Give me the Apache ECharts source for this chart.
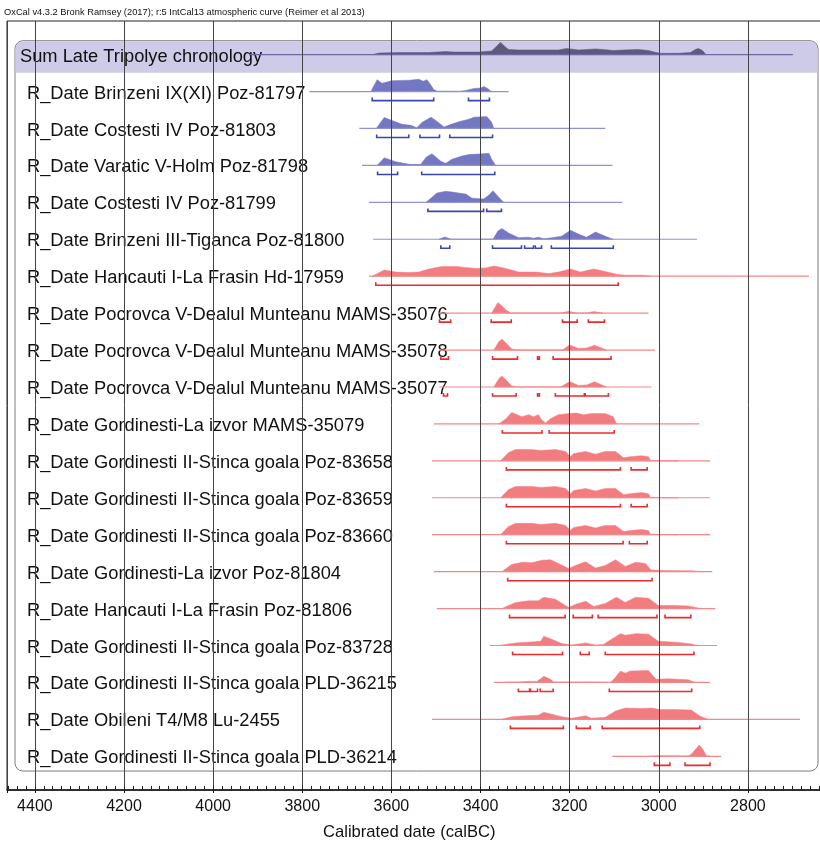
<!DOCTYPE html>
<html>
<head>
<meta charset="utf-8">
<script src="https://cdn.jsdelivr.net/npm/echarts@6/dist/echarts.min.js"></script>
<style>html,body{margin:0;padding:0;background:#fff;overflow:hidden;}#c{width:840px;height:847px;}</style>
</head>
<body>
<div id="c"></div>
<script>
// ---------------- DATA ----------------
const HEADER = 'OxCal v4.3.2 Bronk Ramsey (2017); r:5 IntCal13 atmospheric curve (Reimer et al 2013)';
const AXIS_TITLE = 'Calibrated date (calBC)';
const TICK_VALUES = [4400, 4200, 4000, 3800, 3600, 3400, 3200, 3000, 2800];
const TICK_LABELS = ['4400', '4200', '4000', '3800', '3600', '3400', '3200', '3000', '2800'];

const ROW_LABELS = [
  'Sum Late Tripolye chronology',
  'R_Date Brinzeni IX(XI) Poz-81797',
  'R_Date Costesti IV Poz-81803',
  'R_Date Varatic V-Holm Poz-81798',
  'R_Date Costesti IV Poz-81799',
  'R_Date Brinzeni III-Tiganca Poz-81800',
  'R_Date Hancauti I-La Frasin Hd-17959',
  'R_Date Pocrovca V-Dealul Munteanu MAMS-35076',
  'R_Date Pocrovca V-Dealul Munteanu MAMS-35078',
  'R_Date Pocrovca V-Dealul Munteanu MAMS-35077',
  'R_Date Gordinesti-La izvor MAMS-35079',
  'R_Date Gordinesti II-Stinca goala Poz-83658',
  'R_Date Gordinesti II-Stinca goala Poz-83659',
  'R_Date Gordinesti II-Stinca goala Poz-83660',
  'R_Date Gordinesti-La izvor Poz-81804',
  'R_Date Hancauti I-La Frasin Poz-81806',
  'R_Date Gordinesti II-Stinca goala Poz-83728',
  'R_Date Gordinesti II-Stinca goala PLD-36215',
  'R_Date Obileni T4/M8 Lu-2455',
  'R_Date Gordinesti II-Stinca goala PLD-36214'
];
const ROW_KIND = ['sum','blue','blue','blue','blue','blue','red','red','red','red','red','red','red','red','red','red','red','red','red','red'];

// full calibrated range (calBC) drawn as the thin line of each row
const ROW_RANGES = [
  [3919, 2699], [3784, 3337], [3672, 3120], [3666, 3104], [3650, 3082], [3641, 2914],
  [3650, 2663], [3493, 3023], [3493, 3008], [3493, 3017], [3505, 2909], [3509, 2885],
  [3509, 2885], [3509, 2885], [3505, 2880], [3498, 2873], [3379, 2869], [3370, 2885],
  [3509, 2683], [3104, 2860]
];

// probability distributions: [calBC, relative probability (0-12)]
const DIST_SUM = [[3643,0],[3628,1.5],[3583,2],[3516,2],[3478,3],[3460,2.5],[3404,2.5],[3375,3.5],[3364,8],[3355,12],[3346,8],[3337,5],[3314,4.5],[3270,4.5],[3225,4.5],[3207,6],[3198,5.5],[3180,4.5],[3142,5.5],[3124,5],[3102,4],[3079,4.5],[3046,5],[3023,4],[3010,2.5],[2997,1.2],[2956,1.3],[2929,2],[2918,5],[2911,6],[2902,4],[2894,0]];
const DIST_81797 = [[3646,0],[3632,11.5],[3621,8],[3599,10.5],[3560,11],[3538,12],[3529,10],[3520,11.5],[3511,6],[3505,2],[3498,0.5],[3449,0.3],[3433,1],[3415,3],[3399,3.5],[3393,5],[3384,3],[3377,0.5],[3370,0]];
const DIST_81803 = [[3634,0],[3616,10.7],[3594,7],[3576,4],[3556,3],[3543,0.7],[3531,6],[3511,11],[3498,7],[3482,1.5],[3466,4],[3449,6.5],[3426,9],[3415,11],[3386,11.5],[3375,6],[3370,0]];
const DIST_81798 = [[3632,0],[3616,7.3],[3590,3.5],[3560,1],[3534,1],[3522,8],[3509,11.3],[3489,4],[3478,2],[3464,6],[3442,9],[3426,10.5],[3404,11],[3381,11.7],[3375,6],[3366,0]];
const DIST_81799 = [[3522,0],[3498,9],[3478,10.7],[3464,10],[3433,8],[3419,4],[3393,3.3],[3381,7],[3372,11.3],[3359,5],[3348,0]];
const DIST_81800 = [[3493,0],[3480,2.3],[3466,0],[3372,0],[3361,8],[3352,10.5],[3337,6],[3314,1.5],[3292,2],[3281,1],[3270,2],[3258,0.5],[3240,1.5],[3218,3],[3198,8.7],[3180,5],[3162,2],[3142,7],[3120,3],[3102,0]];
const DIST_17959 = [[3643,0],[3616,6],[3590,4],[3560,3.5],[3538,4],[3516,7],[3487,9.5],[3455,9.5],[3411,7.5],[3388,8],[3370,10],[3343,7.5],[3314,4],[3276,4],[3247,2.5],[3225,4],[3198,7],[3176,4],[3146,7],[3120,4.5],[3095,2],[3075,1],[3039,1],[3017,0]];
const DIST_35076 = [[3375,0],[3361,10.3],[3352,7],[3343,3],[3332,0],[3220,0],[3202,1.7],[3185,0],[3162,0],[3146,1.5],[3126,0]];
const DIST_35078 = [[3370,0],[3359,8],[3352,10.7],[3341,6],[3330,1],[3319,0],[3216,0],[3200,5],[3180,1.5],[3162,2],[3144,4.7],[3117,0]];
const DIST_35077 = [[3370,0],[3359,8],[3352,10.7],[3341,6],[3330,1],[3319,0],[3220,0],[3200,5.3],[3180,1.5],[3162,2],[3144,5],[3117,0]];
const DIST_35079 = [[3359,0],[3343,5],[3330,11],[3307,7],[3292,9],[3281,7],[3270,9],[3263,4],[3254,1],[3243,5],[3225,9],[3202,10],[3185,10.5],[3169,9],[3151,10],[3120,10],[3102,7],[3095,0]];
const DIST_83658 = [[3355,0],[3337,8],[3321,11],[3285,11],[3265,10],[3232,11],[3209,9],[3198,4],[3191,7],[3164,9],[3142,6.5],[3120,9],[3097,9],[3079,3],[3064,4],[3039,5],[3023,4],[3019,0.5],[3001,0.3],[2956,0]];
const DIST_83659 = [[3355,0],[3337,8],[3321,11],[3285,11],[3265,10],[3232,11],[3209,9],[3198,4],[3191,7],[3164,9],[3142,6.5],[3120,9],[3097,9],[3079,3],[3064,4],[3039,5],[3023,4],[3019,0.5],[3001,0.3],[2956,0]];
const DIST_83660 = [[3355,0],[3337,8],[3321,11],[3285,11],[3265,10],[3232,11],[3209,9],[3198,4],[3191,7],[3164,9],[3142,6.5],[3120,9],[3097,9],[3079,3],[3064,4],[3039,5],[3023,4],[3019,0.5],[3001,0.3],[2956,0]];
const DIST_81804 = [[3352,0],[3330,7],[3307,9],[3285,8.5],[3263,11],[3243,11.5],[3225,8],[3202,3],[3187,6],[3164,9.5],[3142,3.5],[3120,6],[3097,11.5],[3075,5],[3052,9],[3030,8],[3017,1.5],[2985,1],[2927,0.8],[2898,0]];
const DIST_81806 = [[3352,0],[3321,6],[3292,7.5],[3270,7.5],[3258,11],[3232,9],[3202,1],[3187,4],[3164,7],[3146,2],[3120,5],[3095,11],[3075,6],[3052,11],[3023,10],[3001,3],[2963,3],[2934,2.5],[2911,0.5],[2900,0]];
const DIST_83728 = [[3359,0],[3321,2.5],[3285,3.5],[3265,4],[3258,9],[3240,6],[3218,2],[3196,0.5],[3164,2.5],[3142,0.5],[3124,1],[3106,6],[3086,11.5],[3075,10],[3052,11.5],[3023,11],[3001,4],[2956,3],[2927,1.5],[2911,0]];
const DIST_36215 = [[3348,0],[3314,0.5],[3292,1],[3274,1],[3263,4],[3258,6],[3243,3],[3236,0.5],[3202,0.3],[3164,0.5],[3135,0.3],[3108,0],[3097,5],[3086,11],[3075,9],[3064,11],[3023,11.5],[3010,5],[3005,3],[2979,3.5],[2934,2.5],[2918,0]];
const DIST_2455 = [[3352,0],[3330,2.5],[3299,3.5],[3270,4],[3258,7],[3240,5],[3218,2.5],[3196,1],[3164,3.5],[3151,1],[3120,2],[3097,8],[3075,11],[3039,10.5],[3017,11],[2997,9.5],[2963,9.5],[2927,9],[2907,3],[2889,0]];
const DIST_36214 = [[3023,0],[3001,0.5],[2979,0.4],[2934,0.3],[2927,2],[2909,11],[2900,6],[2894,1],[2885,0]];
const ROW_DISTS = [DIST_SUM, DIST_81797, DIST_81803, DIST_81798, DIST_81799, DIST_81800, DIST_17959, DIST_35076, DIST_35078, DIST_35077, DIST_35079, DIST_83658, DIST_83659, DIST_83660, DIST_81804, DIST_81806, DIST_83728, DIST_36215, DIST_2455, DIST_36214];

// highest probability density ranges (brackets) [from, to] calBC
const ROW_BRACKETS = [
  [],
  [[3643,3505],[3427,3380]],
  [[3633,3561],[3536,3492],[3469,3373]],
  [[3631,3586],[3532,3368]],
  [[3518,3393],[3386,3353]],
  [[3489,3469],[3373,3308],[3301,3281],[3277,3263],[3241,3102]],
  [[3635,3091]],
  [[3492,3467],[3376,3331],[3216,3183],[3158,3122]],
  [[3489,3472],[3373,3317],[3272,3268],[3237,3107]],
  [[3483,3474],[3373,3320],[3272,3268],[3232,3167],[3165,3113]],
  [[3351,3262],[3246,3100]],
  [[3342,3086],[3062,3026]],
  [[3342,3086],[3062,3026]],
  [[3342,3080],[3066,3026]],
  [[3339,3015]],
  [[3335,3210],[3192,3149],[3136,3004],[2986,2928]],
  [[3328,3216],[3176,3156],[3120,2921]],
  [[3315,3290],[3288,3272],[3266,3237],[3111,2926]],
  [[3333,3214],[3185,3154],[3127,2908]],
  [[3010,2975],[2941,2885]]
];

// ---------------- STYLE ----------------
const FONT = '"Liberation Sans", Arial, Helvetica, sans-serif';
const KIND_STYLE = {
  sum:  { fill: '#5e5b7a', line: '#6b6aa3', bracket: '#3c44b0' },
  blue: { fill: '#7477c2', line: '#8f92d2', bracket: '#3c44b0' },
  red:  { fill: '#f27d80', line: '#f4878a', bracket: '#ec2b2e' }
};

const chart = echarts.init(document.getElementById('c'));

function renderBox(params, api) {
  const cs = params.coordSys;
  const x0 = cs.x + 8, x1 = cs.x + 811;
  const yTop = api.coord([3000, -0.376])[1];
  const yBand = api.coord([3000, 0.49])[1];
  const yBot = api.coord([3000, 19.4])[1];
  return {
    type: 'group',
    children: [
      { type: 'rect', shape: { x: x0, y: yTop, width: x1 - x0, height: yBot - yTop, r: 8 },
        style: { fill: '#ffffff', stroke: '#7d7d7d', lineWidth: 1 } },
      { type: 'rect', shape: { x: x0 + 0.5, y: yTop + 0.5, width: x1 - x0 - 1, height: yBand - yTop - 0.5, r: [8, 8, 0, 0] },
        style: { fill: '#cdcbe7' } }
    ]
  };
}

function renderLabel(params, api) {
  const i = api.value(1);
  const cs = params.coordSys;
  const y = api.coord([3000, i])[1];
  return {
    type: 'text',
    x: cs.x + (i === 0 ? 13 : 20),
    y: y + 2,
    style: { text: ROW_LABELS[i], font: '18.3px ' + FONT, fill: '#111', align: 'left', verticalAlign: 'middle' }
  };
}

function renderRow(params, api) {
  const i = api.value(1);
  const st = KIND_STYLE[ROW_KIND[i]];
  const rowPx = api.size([0, 1])[1];
  const hScale = rowPx * 0.335 / 12;
  const children = [];
  const r = ROW_RANGES[i];
  const a = api.coord([r[0], i]), b = api.coord([r[1], i]);
  const dist = ROW_DISTS[i];
  const pts = dist.map(function (p) { const c = api.coord([p[0], i]); return [c[0], c[1] - p[1] * hScale]; });
  children.push({ type: 'polygon', shape: { points: pts }, style: { fill: st.fill, stroke: st.fill, lineWidth: 0.5 } });
  children.push({ type: 'line', shape: { x1: a[0], y1: a[1], x2: b[0], y2: b[1] }, style: { stroke: st.line, lineWidth: 1.2 } });
  const off = rowPx * 0.245;
  ROW_BRACKETS[i].forEach(function (br) {
    const p = api.coord([br[0], i]), q = api.coord([br[1], i]);
    const y = p[1] + off;
    children.push({ type: 'polyline', shape: { points: [[p[0], y - 3], [p[0], y], [q[0], y], [q[0], y - 3]] },
      style: { stroke: st.bracket, lineWidth: 1.6, fill: null } });
  });
  return { type: 'group', children: children };
}

const rowIdx = ROW_LABELS.map(function (_, i) { return [3000, i]; });

chart.setOption({
  animation: false,
  backgroundColor: '#ffffff',
  title: [
    { text: HEADER, left: 4, top: 8, padding: 0,
      textStyle: { fontSize: 9.3, fontWeight: 'normal', fontFamily: FONT, color: '#111' } },
    { text: AXIS_TITLE, left: 323, top: 824, padding: 0,
      textStyle: { fontSize: 16.6, fontWeight: 'normal', fontFamily: FONT, color: '#111' } }
  ],
  grid: { left: 7, right: 0.6, top: 21, bottom: 57, show: true, borderColor: '#222', borderWidth: 1, backgroundColor: 'transparent' },
  xAxis: [
    {
      type: 'value', inverse: true, min: 2600, max: 4462.6, interval: 200, position: 'bottom', z: 10,
      axisLine: { show: true, onZero: false, lineStyle: { color: '#111', width: 1.5 } },
      axisTick: { show: true, length: 3, lineStyle: { color: '#111' } },
      splitLine: { show: true, lineStyle: { color: '#444', width: 1 } },
      axisLabel: {
        margin: 9, fontSize: 16, fontFamily: FONT, color: '#111',
        formatter: function (v) { const k = TICK_VALUES.indexOf(v); return k >= 0 ? TICK_LABELS[k] : ''; }
      }
    },
    {
      type: 'value', inverse: true, min: 2600, max: 4462.6, interval: 20, position: 'bottom', z: 10,
      axisLine: { show: false, onZero: false },
      axisTick: { show: true, inside: true, length: 4, lineStyle: { color: '#222' } },
      splitLine: { show: false },
      axisLabel: { show: false }
    }
  ],
  yAxis: { type: 'value', inverse: true, min: -0.91, max: 19.913, show: false, splitLine: { show: false } },
  series: [
    { type: 'custom', name: 'box', z: 1, silent: true, data: [[3000, 0]], renderItem: renderBox, xAxisIndex: 0 },
    { type: 'custom', name: 'labels', z: 2, silent: true, data: rowIdx, renderItem: renderLabel, xAxisIndex: 0 },
    { type: 'custom', name: 'rows', z: 3, silent: true, data: rowIdx, renderItem: renderRow, xAxisIndex: 0 }
  ]
});
</script>
</body>
</html>
